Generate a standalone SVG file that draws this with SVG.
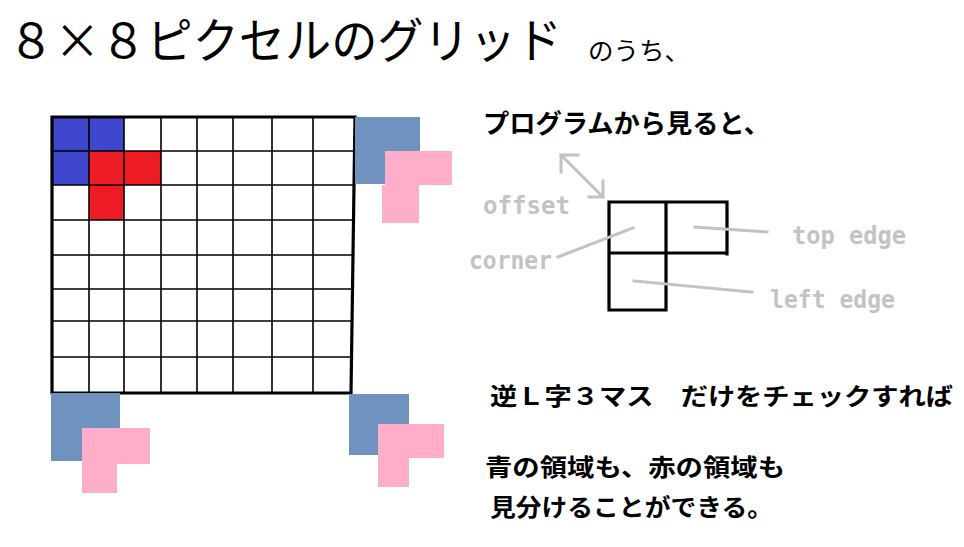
<svg xmlns="http://www.w3.org/2000/svg" width="964" height="547" viewBox="0 0 964 547">
<style>
.jp{font-family:"Noto Sans CJK JP","Noto Sans CJK SC",sans-serif;fill:#000}
.b{font-weight:bold}
.lbl{font-family:"DejaVu Sans Mono","Liberation Mono",monospace;font-weight:bold;fill:#c3c3c3;font-size:24px}
.g{stroke:#000;stroke-width:1.6;fill:none}
.gl{stroke:#c3c3c3;stroke-width:3;fill:none;stroke-linecap:square}
.blk{stroke:#000;stroke-width:3.2;fill:none;stroke-linecap:square}
</style>
<rect width="964" height="547" fill="#fff"/>
<g id="title">
<text class="jp" x="8" y="58" font-size="48" textLength="554" lengthAdjust="spacingAndGlyphs">８×８ピクセルのグリッド</text>
<text class="jp" x="588" y="60" font-size="25" textLength="102" lengthAdjust="spacingAndGlyphs">のうち、</text>
</g>
<g id="grid">
<rect x="52" y="117" width="72" height="34" fill="#3F48CC"/>
<rect x="52" y="151" width="37" height="34" fill="#3F48CC"/>
<rect x="89" y="151" width="72" height="34" fill="#ED1C24"/>
<rect x="89" y="185" width="35" height="35" fill="#ED1C24"/>
<path class="g" d="M89 117V393M124 117V393M161 117V393M197 117V393M233 117V393M272 117V393M313 117V393M52 151H353M52 185H353M52 220H353M52 255H353M52 289H353M52 321H353M52 357H353"/>
<path d="M52 117H355L351 393H52Z" fill="none" stroke="#000" stroke-width="3.2"/>
</g>
<g id="corner-tr">
<rect x="355" y="117" width="65" height="67" fill="#7092BE"/>
<path d="M385 151H452V185H419V223H382V185H385Z" fill="#FFAEC9"/>
</g>
<g id="corner-bl">
<rect x="51" y="393" width="69" height="35" fill="#7092BE"/>
<rect x="51" y="393" width="32" height="68" fill="#7092BE"/>
<path d="M82 428H150V464H117V493H82Z" fill="#FFAEC9"/>
</g>
<g id="corner-br">
<rect x="349" y="394" width="60" height="61" fill="#7092BE"/>
<path d="M378 424H444V458H409V487H378Z" fill="#FFAEC9"/>
</g>
<g id="heading2">
<text class="jp b" x="483" y="133" font-size="26" textLength="287" lengthAdjust="spacingAndGlyphs">プログラムから見ると、</text>
</g>
<g id="small-grid">
<path class="blk" d="M609 202H727V254M609 253H727M666 205V309M609 202V310H666"/>
</g>
<g id="labels">
<text class="lbl" x="483" y="214" textLength="87" lengthAdjust="spacingAndGlyphs">offset</text>
<text class="lbl" x="469" y="269" textLength="83" lengthAdjust="spacingAndGlyphs">corner</text>
<text class="lbl" x="792" y="244" textLength="114" lengthAdjust="spacingAndGlyphs">top edge</text>
<text class="lbl" x="770" y="308" textLength="125" lengthAdjust="spacingAndGlyphs">left edge</text>
</g>
<g id="connectors">
<path class="gl" d="M561 155L603 197M578 155H561V172M603 181V197H589"/>
<path class="gl" d="M558 257L633 228"/>
<path class="gl" d="M695 227L767 232"/>
<path class="gl" d="M634 281L752 292"/>
</g>
<g id="notes">
<text class="jp b" x="490" y="405" font-size="24" textLength="463" lengthAdjust="spacingAndGlyphs">逆Ｌ字３マス　だけをチェックすれば</text>
<text class="jp b" x="485" y="476" font-size="24" textLength="300" lengthAdjust="spacingAndGlyphs">青の領域も、赤の領域も</text>
<text class="jp b" x="490" y="516" font-size="24" textLength="283" lengthAdjust="spacingAndGlyphs">見分けることができる。</text>
</g>
</svg>
